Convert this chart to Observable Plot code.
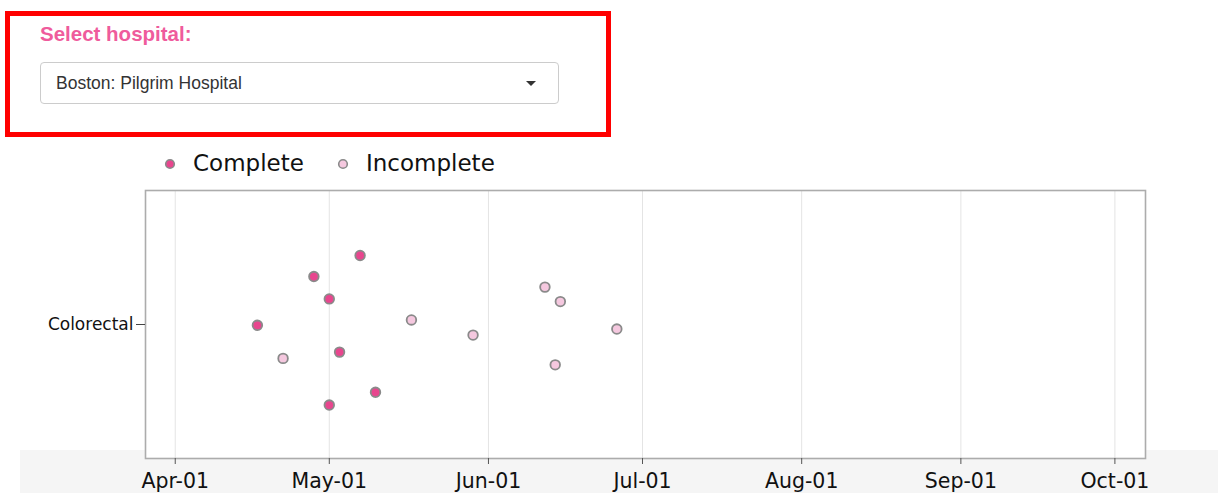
<!DOCTYPE html>
<html><head><meta charset="utf-8">
<script src="https://cdn.jsdelivr.net/npm/d3@7"></script>
<script src="https://cdn.jsdelivr.net/npm/@observablehq/plot@0.6"></script>
<style>
body{margin:0;width:1218px;height:493px;position:relative;overflow:hidden;background:#fff;font-family:"DejaVu Sans",sans-serif;}
#panel{position:absolute;left:5px;top:11px;width:596px;height:116px;border:5px solid #ff0000;}
#lbl{position:absolute;left:40px;top:22px;font:bold 20.5px/24px "Liberation Sans",Arial,sans-serif;color:#ef5b9c;white-space:nowrap;}
#sel{position:absolute;left:40px;top:62px;width:519px;height:42px;box-sizing:border-box;border:1px solid #cccccc;border-radius:4px;background:#fff;font:17.5px/40px "Liberation Sans",Arial,sans-serif;color:#333;padding-left:15px;white-space:nowrap;}
#caret{position:absolute;left:526px;top:81px;width:0;height:0;border-left:5px solid transparent;border-right:5px solid transparent;border-top:5px solid #333;}
#band{position:absolute;left:20px;top:450px;width:1198px;height:43px;background:#f5f5f5;}
#legend{position:absolute;left:160px;top:149px;height:28px;font:23px/28px "DejaVu Sans",sans-serif;color:#111;white-space:nowrap;}
#legend .it{position:absolute;top:0;white-space:nowrap;}
#legend svg{position:absolute;top:8px;}
#legend span{position:absolute;top:0;}
#chart{position:absolute;left:0;top:180px;}
</style></head>
<body>
<div id="panel"></div>
<div id="lbl">Select hospital:</div>
<div id="sel">Boston: Pilgrim Hospital</div>
<div id="caret"></div>
<div id="band"></div>
<div id="legend"></div>
<div id="chart"></div>
<script>
const categories = ["Colorectal"];
const legendLabels = ["Complete", "Incomplete"];
const dates = ["2021-05-07","2021-04-28","2021-05-01","2021-04-17","2021-04-22","2021-05-03","2021-05-17","2021-05-29","2021-06-12","2021-06-15","2021-06-26","2021-06-14","2021-05-10","2021-05-01"];
const jitter = [0.515,0.358,0.191,-0.006,-0.253,-0.206,0.034,-0.079,0.279,0.171,-0.034,-0.301,-0.506,-0.601];
const status = ["Complete","Complete","Complete","Complete","Incomplete","Complete","Incomplete","Incomplete","Incomplete","Incomplete","Incomplete","Incomplete","Complete","Complete"];
const tickDates = ["2021-04-01","2021-05-01","2021-06-01","2021-07-01","2021-08-01","2021-09-01","2021-10-01"];

const colors = {Complete: "#e8468e", Incomplete: "#f5c8df"};
const data = dates.map((d, i) => ({date: new Date(d), jitter: jitter[i], status: status[i]}));
const ticks = tickDates.map(d => new Date(d));

// legend
const lg = document.getElementById("legend");
const legX = [0, 173];
legendLabels.forEach((l, i) => {
  const it = document.createElement("div");
  it.className = "it";
  it.style.left = legX[i] + "px";
  it.innerHTML = `<svg width="14" height="14" style="left:3px"><circle cx="7" cy="7" r="4.3" fill="${colors[l]}" stroke="#8a8a8a" stroke-width="1.6"/></svg><span style="left:33px">${l}</span>`;
  lg.appendChild(it);
});

const plot = Plot.plot({
  width: 1218,
  height: 313,
  marginLeft: 145,
  marginRight: 73,
  marginTop: 10,
  marginBottom: 35,
  style: {background: "transparent", overflow: "visible", fontFamily: "DejaVu Sans, sans-serif"},
  x: {type: "utc", domain: [new Date("2021-03-26T05:00Z"), new Date("2021-10-06T23:00Z")]},
  y: {domain: [-1, 1]},
  marks: [
    Plot.frame({fill: "white"}),
    Plot.gridX(ticks, {stroke: "#e4e4e4", strokeOpacity: 1, strokeWidth: 1}),
    Plot.frame({stroke: "#acacac", strokeWidth: 1.6}),
    Plot.axisX(ticks, {tickFormat: d3.utcFormat("%b-%d"), fontSize: 20.5, tickSize: 6, tickPadding: 9, stroke: "#555", fill: "#111", label: null}),
    Plot.axisY([0], {tickFormat: () => categories[0], fontSize: 17, tickSize: 9, tickPadding: 3, stroke: "#444", fill: "#111", label: null}),
    Plot.dot(data, {x: "date", y: "jitter", r: 4.8, fill: d => colors[d.status], stroke: "#8a8a8a", strokeWidth: 1.8})
  ]
});
document.getElementById("chart").appendChild(plot);
</script>
</body></html>
